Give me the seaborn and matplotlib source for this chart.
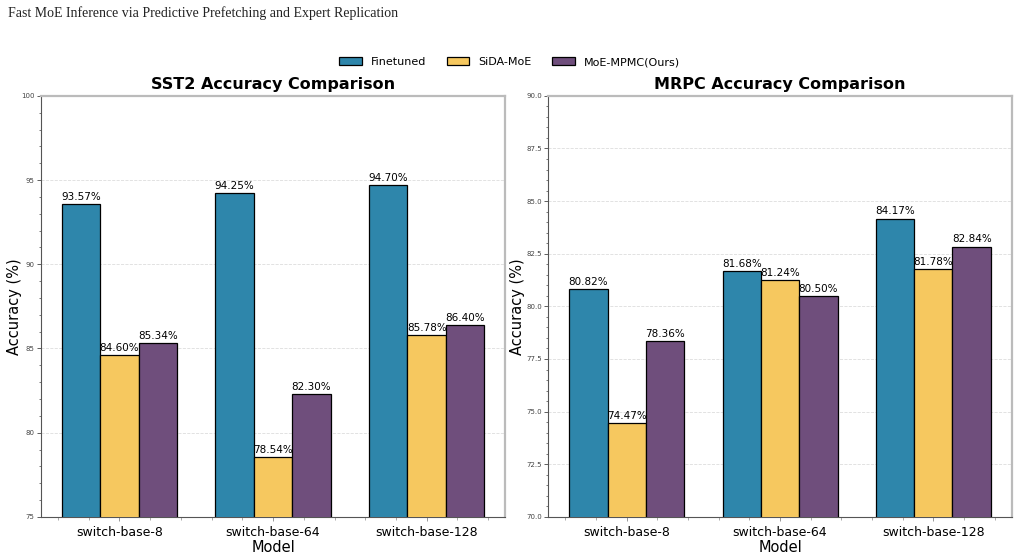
import pandas as pd
import matplotlib.pyplot as plt
import numpy as np
import seaborn as sns
from matplotlib.ticker import AutoMinorLocator, MultipleLocator

models = ["switch-base-8", "switch-base-64", "switch-base-128"]
methods = ["Finetuned", "SiDA-MoE", "MoE-MPMC(Ours)"]
sst2_finetuned = [93.57, 94.25, 94.70]
sst2_sida = [84.60, 78.54, 85.78]
sst2_ours = [85.34, 82.30, 86.40]
mrpc_finetuned = [80.82, 81.68, 84.17]
mrpc_sida = [74.47, 81.24, 81.78]
mrpc_ours = [78.36, 80.50, 82.84]
colors = ["#2E86AB", "#F6C85F", "#6F4E7C"]


def make_df(a, b, c):
    rows = []
    for vals, m in zip([a, b, c], methods):
        for model, v in zip(models, vals):
            rows.append({"Model": model, "Method": m, "Accuracy": v})
    return pd.DataFrame(rows)


sst2 = make_df(sst2_finetuned, sst2_sida, sst2_ours)
mrpc = make_df(mrpc_finetuned, mrpc_sida, mrpc_ours)

sns.set_style("white")
fig = plt.figure(figsize=(10.19, 5.54), dpi=100)
ax1 = fig.add_axes([0.040, 0.067, 0.456, 0.760])
ax2 = fig.add_axes([0.538, 0.067, 0.455, 0.760])

panels = [
    (ax1, sst2, "SST2 Accuracy Comparison", (75, 100), 5, -0.040),
    (ax2, mrpc, "MRPC Accuracy Comparison", (70, 90), 2.5, -0.050),
]

for ax, df, title, ylim, step, ylab_x in panels:
    sns.barplot(data=df, x="Model", y="Accuracy", hue="Method", palette=colors,
                saturation=1, width=0.75, errorbar=None, edgecolor="black",
                linewidth=0.9, ax=ax, zorder=3)
    for cont in ax.containers:
        ax.bar_label(cont, labels=[f"{v:.2f}%" for v in cont.datavalues],
                     fontsize=7.5, padding=1.5, color="black")
    ax.legend_.remove()
    ax.set_ylim(*ylim)
    ax.set_xlim(-0.5125, 2.5125)
    ax.yaxis.set_major_locator(MultipleLocator(step))
    ax.yaxis.set_minor_locator(AutoMinorLocator(5))
    ax.xaxis.set_minor_locator(MultipleLocator(0.2))
    if step == 5:
        ax.yaxis.set_major_formatter(lambda v, p: f"{v:.0f}")
    else:
        ax.yaxis.set_major_formatter(lambda v, p: f"{v:.1f}")
    ax.tick_params(axis="y", which="major", labelsize=5, length=3, width=0.6,
                   pad=1.5, left=True, colors="#444444")
    ax.tick_params(axis="y", which="minor", length=1.8, width=0.5, left=True,
                   color="#444444")
    ax.tick_params(axis="x", which="major", labelsize=9, length=3, width=0.6,
                   bottom=True, color="#888888", labelcolor="black")
    ax.tick_params(axis="x", which="minor", length=2, width=0.5, bottom=True,
                   color="#888888")
    ax.grid(axis="y", linestyle="--", color="#dddddd", linewidth=0.6, zorder=0)
    ax.set_title(title, fontsize=11.5, fontweight="bold", pad=5, color="black")
    ax.set_xlabel("Model", fontsize=10.5, labelpad=1, color="black")
    ax.set_ylabel("Accuracy (%)", fontsize=10.5, color="black")
    ax.yaxis.set_label_coords(ylab_x, 0.5)
    for s in ["left", "bottom"]:
        ax.spines[s].set_color("#555555")
        ax.spines[s].set_linewidth(0.8)
    for s in ["top", "right"]:
        ax.spines[s].set_color("#bbbbbb")
        ax.spines[s].set_linewidth(1.6)

handles, labels = ax1.get_legend_handles_labels()
fig.legend(handles, labels, loc="center", bbox_to_anchor=(0.5, 0.888), ncol=3,
           frameon=False, fontsize=8, handlelength=2.0, handleheight=0.7,
           columnspacing=1.9, labelcolor="black")

fig.text(0.008, 0.977, "Fast MoE Inference via Predictive Prefetching and Expert Replication",
         fontsize=10, family="Liberation Serif", va="center", ha="left", color="#222222")

fig.savefig("out.png", dpi=100)
